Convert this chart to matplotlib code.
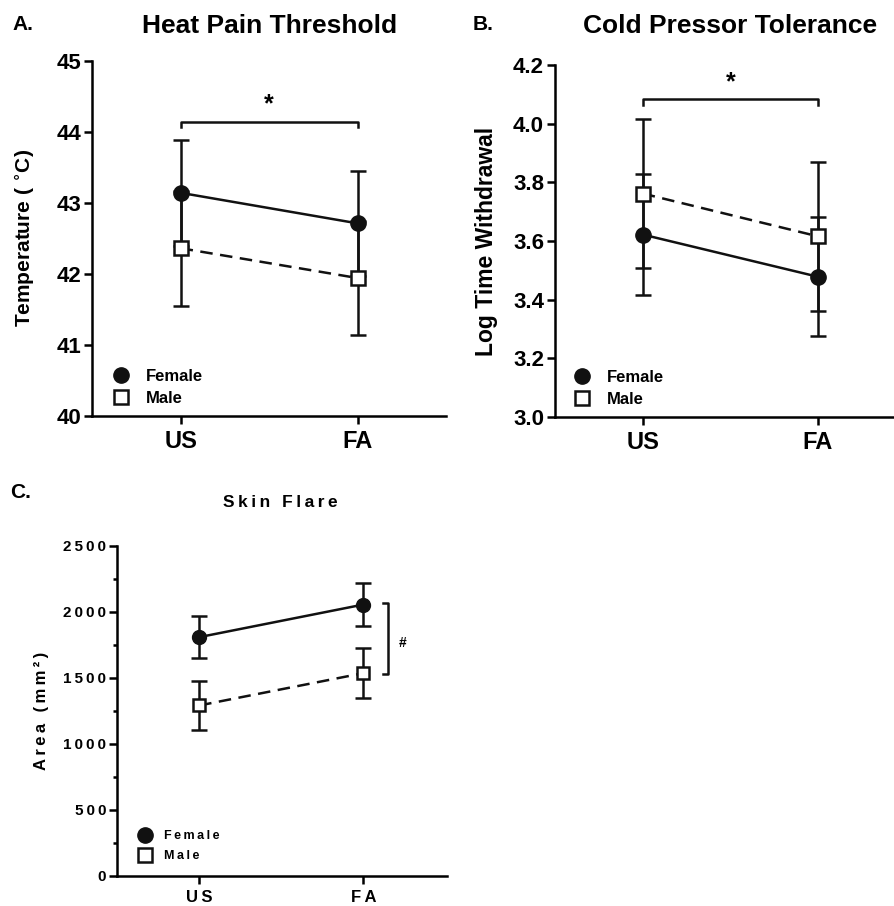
import matplotlib
matplotlib.use("Agg")
import matplotlib.pyplot as plt
from matplotlib.lines import Line2D

plt.rcParams["font.family"] = ["Liberation Sans", "DejaVu Sans"]
plt.rcParams["font.weight"] = "bold"
plt.rcParams["axes.labelweight"] = "bold"
plt.rcParams["mathtext.default"] = "bf"

conditions = ["US", "FA"]

# A. Heat pain threshold (deg C)
heat_female = [43.14, 42.71]
heat_female_err = [0.75, 0.74]
heat_male = [42.36, 41.94]
heat_male_err = [0.81, 0.80]

# B. Cold pressor tolerance (log time withdrawal)
cold_female = [3.622, 3.478]
cold_female_err = [0.205, 0.204]
cold_male = [3.762, 3.616]
cold_male_err = [0.255, 0.254]

# C. Skin flare area (mm^2)
flare_female = [1808, 2055]
flare_female_err = [160, 162]
flare_male = [1290, 1535]
flare_male_err = [185, 190]

LW = 1.8


def spaced(s):
    return "\u2009".join(s)


def style_axis(ax, ylim, yticks, tick_fs, xtick_fs, minor=None):
    ax.spines["top"].set_visible(False)
    ax.spines["right"].set_visible(False)
    ax.spines["left"].set_linewidth(LW)
    ax.spines["bottom"].set_linewidth(LW)
    ax.set_ylim(*ylim)
    ax.set_yticks(yticks)
    if minor is not None:
        ax.set_yticks(minor, minor=True)
        ax.tick_params(axis="y", which="minor", length=3, width=LW)
    ax.set_xticks(range(len(conditions)))
    ax.tick_params(axis="both", which="major", length=6, width=LW, direction="out")
    ax.tick_params(axis="y", labelsize=tick_fs, pad=2)
    ax.tick_params(axis="x", labelsize=xtick_fs, pad=4)


def draw_series(ax, female, female_err, male, male_err, ms):
    x = range(len(conditions))
    ax.errorbar(x, female, yerr=female_err, color="#111111", marker="o", ms=ms,
                lw=LW, elinewidth=LW, capsize=6, capthick=LW, zorder=3)
    ax.errorbar(x, male, yerr=male_err, color="#111111", marker="s", ms=ms - 1,
                mfc="white", mec="#111111", mew=LW, lw=LW, ls=(0, (5, 3)),
                elinewidth=LW, capsize=6, capthick=LW, zorder=4)


def add_legend(ax, fs, ms, anchor, labels, spacing):
    handles = [
        Line2D([], [], ls="none", marker="o", ms=ms, color="#111111"),
        Line2D([], [], ls="none", marker="s", ms=ms - 1, mfc="white",
               mec="#111111", mew=LW),
    ]
    ax.legend(handles, labels, loc="lower left", bbox_to_anchor=anchor,
              frameon=False, handlelength=1.0, handletextpad=1.0,
              labelspacing=spacing, borderpad=0.2,
              prop={"size": fs, "weight": "bold"})


fig = plt.figure(figsize=(8.94, 9.06), dpi=100)

# Panel A
axA = fig.add_axes([0.103, 0.541, 0.396, 0.392])
draw_series(axA, heat_female, heat_female_err, heat_male, heat_male_err, 11)
axA.set_xlim(-0.5, 1.5)
style_axis(axA, (40, 45), [40, 41, 42, 43, 44, 45], 16, 17)
axA.set_xticklabels(conditions)
axA.set_ylabel("Temperature ( $^{\\circ}$C)", fontsize=15, labelpad=14)
axA.plot([0, 0, 1, 1], [44.06, 44.13, 44.13, 44.06], color="#111111", lw=LW)
axA.text(0.5, 44.22, "*", ha="center", va="bottom", fontsize=18)
add_legend(axA, 12, 11, (0.025, -0.005), ["Female", "Male"], 0.4)

# Panel B
axB = fig.add_axes([0.621, 0.540, 0.378, 0.388])
draw_series(axB, cold_female, cold_female_err, cold_male, cold_male_err, 11)
axB.set_xlim(-0.5, 1.43)
style_axis(axB, (3.0, 4.2), [3.0, 3.2, 3.4, 3.6, 3.8, 4.0, 4.2], 16, 17)
axB.set_yticklabels(["3.0", "3.2", "3.4", "3.6", "3.8", "4.0", "4.2"])
axB.set_xticklabels(conditions)
axB.set_ylabel("Log Time Withdrawal", fontsize=16.5, labelpad=11)
axB.plot([0, 0, 1, 1], [4.063, 4.084, 4.084, 4.063], color="#111111", lw=LW)
axB.text(0.5, 4.10, "*", ha="center", va="bottom", fontsize=18)
add_legend(axB, 12, 11, (0.02, -0.005), ["Female", "Male"], 0.4)

# Panel C
axC = fig.add_axes([0.131, 0.0335, 0.369, 0.364])
draw_series(axC, flare_female, flare_female_err, flare_male, flare_male_err, 10)
axC.set_xlim(-0.5, 1.51)
style_axis(axC, (0, 2500), [0, 500, 1000, 1500, 2000, 2500], 11, 12,
           minor=[250, 750, 1250, 1750, 2250])
axC.set_yticklabels([spaced(str(v)) for v in [0, 500, 1000, 1500, 2000, 2500]])
axC.set_xticklabels([spaced(c) for c in conditions])
axC.set_ylabel(spaced("Area (mm²)"), fontsize=12, labelpad=10)
axC.plot([1.12, 1.15, 1.15, 1.12], [2066, 2066, 1529, 1529], color="#111111", lw=LW)
axC.text(1.24, 1760, "#", ha="center", va="center", fontsize=10)
add_legend(axC, 9, 11, (0.04, 0.015), [spaced("Female"), spaced("Male")], 0.6)

# Titles and panel letters
fig.text(0.301, 0.971, "Heat Pain Threshold", ha="center", va="center", fontsize=19)
fig.text(0.817, 0.971, "Cold Pressor Tolerance", ha="center", va="center", fontsize=19)
fig.text(0.314, 0.445, spaced("Skin Flare"), ha="center", va="center", fontsize=12.5)
fig.text(0.014, 0.973, "A.", ha="left", va="center", fontsize=15)
fig.text(0.529, 0.973, "B.", ha="left", va="center", fontsize=15)
fig.text(0.011, 0.456, "C.", ha="left", va="center", fontsize=15)

fig.savefig("out.png", dpi=100)
